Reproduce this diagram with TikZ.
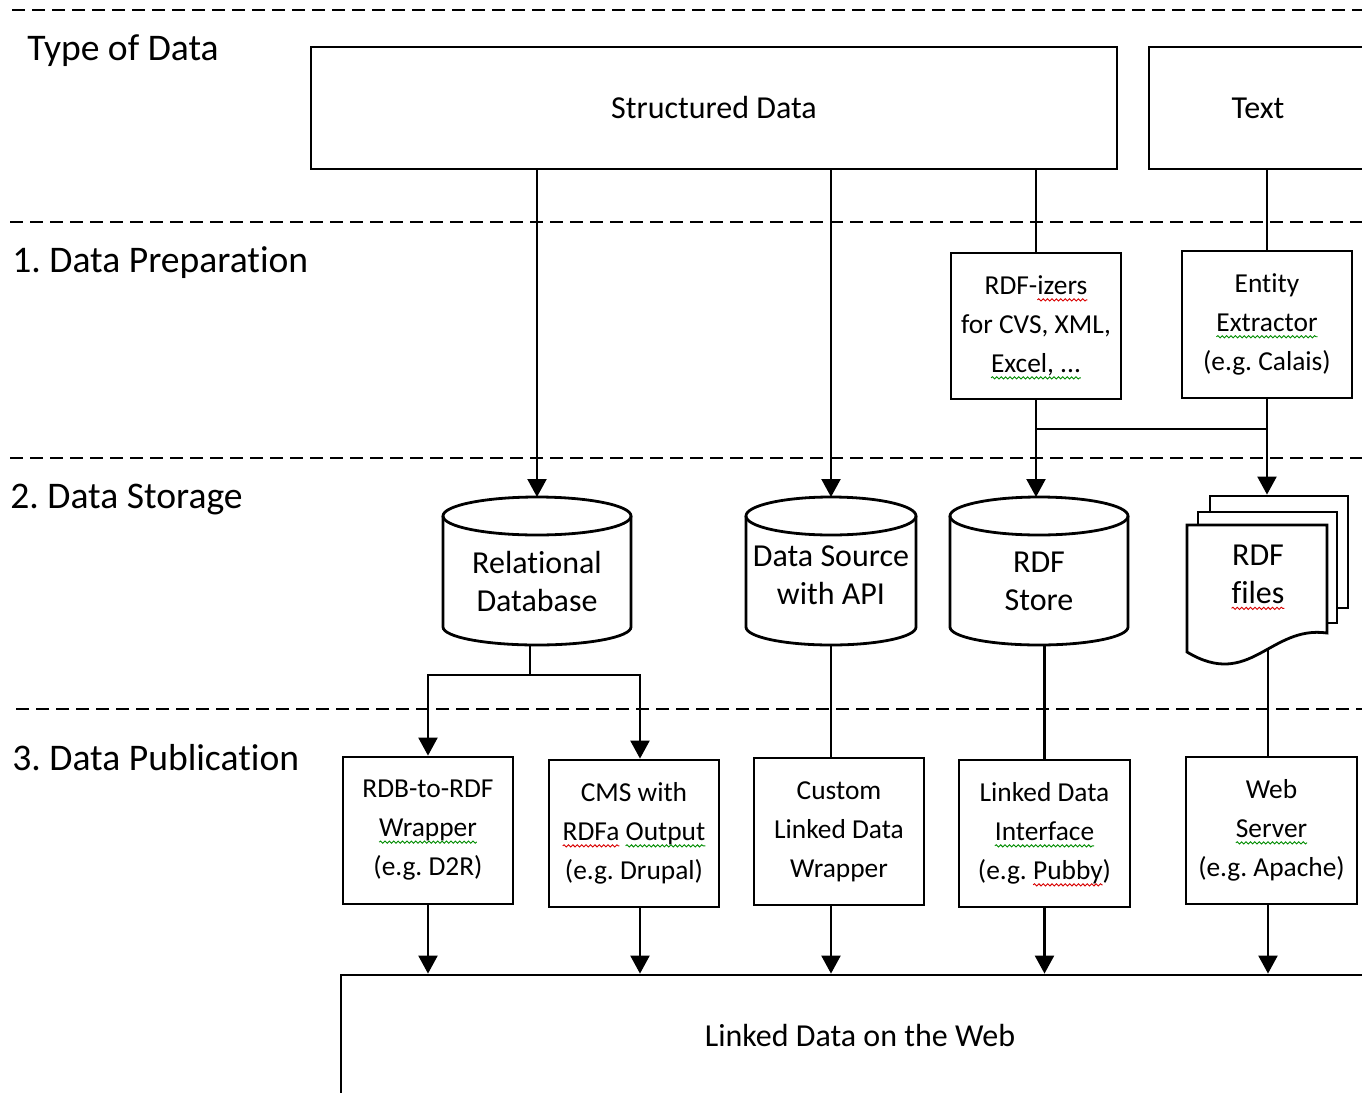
\documentclass[tikz,border=0pt]{standalone}
\usepackage{fontspec}
\setmainfont{Carlito}[Ligatures=NoCommon]
\frenchspacing
\usetikzlibrary{arrows.meta,decorations.pathmorphing}
\newcommand\wv[2]{\setbox0\hbox{#2}\rlap{\usebox0}\tikz[baseline=0pt]{%
  \useasboundingbox (0pt,0pt) rectangle (\wd0,0pt);
  \draw[draw=#1, fill=none, line width=0.45pt, decorate,
    decoration={snake, amplitude=0.55pt, segment length=2.2pt}]
    (0pt,-2.6pt) -- (\wd0,-2.6pt);}}
\newcommand\rw[1]{\wv{red!85!black}{#1}}
\newcommand\gw[1]{\wv{green!55!black}{#1}}
\tikzset{
  box/.style={draw, line width=1.4pt, fill=white, align=center, inner sep=0pt,
    minimum width=85pt, minimum height=73.5pt, font=\fontsize{13.7}{19.5}\selectfont},
  bigbox/.style={box, font=\fontsize{16}{19}\selectfont},
  cyltext/.style={align=center, inner sep=0pt, font=\fontsize{16}{19}\selectfont},
  conn/.style={line width=1.1pt},
  arr/.style={conn, -{Triangle[width=9.5pt,length=9pt]}},
  sepline/.style={line width=1pt, dash pattern=on 6.5pt off 3.5pt},
  head/.style={anchor=west, inner sep=0pt, font=\fontsize{18.8}{22}\selectfont},
  doc/.style={draw, line width=1.4pt, fill=white, inner sep=0pt}
}
\newcommand\dbcyl[5]{% name, cx, rx, text y, text
  \draw[line width=1.4pt, fill=white] (#2-#3,516) -- (#2-#3,627)
     arc[start angle=180, end angle=0, x radius=#3, y radius=18] -- (#2+#3,516);
  \draw[line width=1.4pt] (#2,516) ellipse[x radius=#3, y radius=19];
  \node[cyltext] (#1) at (#2,#4) {#5};
  \coordinate (#1-top) at (#2,497);
  \coordinate (#1-bot) at (#2,645);
}
\begin{document}
\begin{tikzpicture}[x=0.5pt, y=-0.5pt]
\useasboundingbox (0,0) rectangle (1362,1093);
\fill[white] (0,0) rectangle (1362,1093);
\clip (0,0) rectangle (1362,1093);

% separators
\draw[sepline] (12,10) -- (1362,10);
\draw[sepline] (10,222) -- (1362,222);
\draw[sepline] (10,458) -- (1362,458);
\draw[sepline] (16,709) -- (1362,709);

% headings
\node[head] (h0) at (27,51) {Type of Data};
\node[head] (h1) at (12,263) {1. Data Preparation};
\node[head] (h2) at (10,500) {2. Data Storage};
\node[head] (h3) at (12,758) {3. Data Publication};

% type of data
\node[bigbox, minimum width=403pt, minimum height=61pt] (sd) at (714,108) {Structured Data};
\node[bigbox, minimum width=109pt, minimum height=61pt] (txt) at (1258,108) {Text};

% preparation
\node[box, minimum height=73pt] (rdfz) at (1036,326) {RDF-\rw{izers}\\for CVS, XML,\\\gw{Excel, ...}};
\node[box] (ent) at (1267,324.5) {Entity\\\gw{Extractor}\\(e.g. Calais)};

% storage
\dbcyl{rdb}{537}{94}{581}{Relational\\Database}
\dbcyl{dsa}{831}{85}{575}{Data Source\\with API}
\dbcyl{rdfs}{1039}{89}{581}{RDF\\Store}

\node[doc, minimum width=69pt, minimum height=56pt] (files) at (1279,552) {};
\node[doc, minimum width=69.5pt, minimum height=55.5pt] (files2) at (1267.5,567.5) {};
\draw[line width=1.4pt, fill=white] (1187,525) -- (1327,525) -- (1327,633)
   .. controls (1270,625) and (1250,690) .. (1187,652) -- cycle;
\node[cyltext] (filest) at (1258,574) {RDF\\\rw{files}};
\coordinate (files-bot) at (1268,650);

% publication
\node[box] (p1) at (428,830.5) {RDB-to-RDF\\\gw{Wrapper}\\(e.g. D2R)};
\node[box] (p2) at (634,833.5) {CMS with\\\rw{RDFa} \gw{Output}\\(e.g. Drupal)};
\node[box] (p3) at (839,831.5) {Custom\\Linked Data\\Wrapper};
\node[box, minimum width=85.5pt] (p4) at (1044.5,833.5) {Linked Data\\\gw{Interface}\\(e.g. \rw{Pubby})};
\node[box, minimum width=85.5pt] (p5) at (1271.5,830.5) {Web\\\gw{Server}\\(e.g. Apache)};

\node[bigbox, minimum width=519pt, minimum height=60pt] (ld) at (860,1035) {Linked Data on the Web};

% helper coordinates
\coordinate (c640) at (640,0);
\coordinate (join) at (0,429);
\coordinate (rdb-out) at (530,645);
\coordinate (fork) at (530,675);

% connectors: type -> preparation/storage
\draw[arr] (sd.south -| rdb-top) -- (rdb-top);
\draw[arr] (sd.south -| dsa-top) -- (dsa-top);
\draw[conn] (sd.south -| rdfz.north) -- (rdfz.north);
\draw[conn] (txt.south -| ent.north) -- (ent.north);

% preparation -> storage
\draw[conn] (rdfz.south |- join) -- (ent.south |- join);
\draw[arr] (rdfz.south) -- (rdfz.south |- rdfs-top);
\draw[arr] (ent.south) -- (ent.south |- files.north);

% storage -> publication
\draw[arr] (rdb-out) -- (fork) -| (p1.north);
\draw[arr] (fork) -| (c640 |- p2.north);
\draw[conn] (dsa-bot) -- (dsa-bot |- p3.north);
\draw[conn] (p4.north |- rdfs-bot) -- (p4.north);
\draw[conn] (files-bot) -- (files-bot |- p5.north);

% publication -> web
\draw[arr] (p1.south) -- (p1.south |- ld.north);
\draw[arr] (p2.south -| c640) -- (ld.north -| c640);
\draw[arr] (p3.south -| dsa-bot) -- (ld.north -| dsa-bot);
\draw[arr] (p4.south) -- (p4.south |- ld.north);
\draw[arr] (p5.south -| files-bot) -- (ld.north -| files-bot);
\end{tikzpicture}
\end{document}
